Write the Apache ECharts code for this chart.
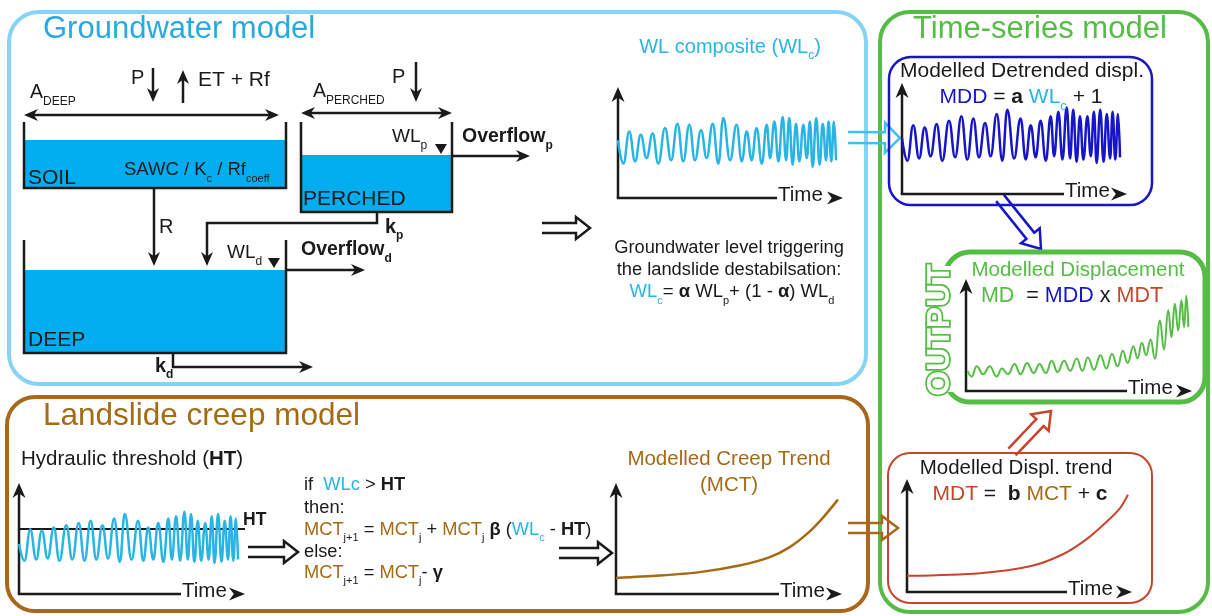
<!DOCTYPE html>
<html><head><meta charset="utf-8">
<script src="https://cdn.jsdelivr.net/npm/echarts@6/dist/echarts.min.js"></script>
<style>html,body{margin:0;padding:0;background:#fff}#c{width:1212px;height:616px}</style>
</head><body><div id="c"></div>
<script>
// ---------- data (time 0-100, level 0-100) ----------
const waveTime = [0,2.4,5,7.6,10.1,12.7,15.4,17.9,20.9,23.6,26.4,29,31.7,34.2,36.9,39.4,42.1,44.6,46.8,49.8,52.7,55,57.2,59.4,61.6,63.9,66.1,67.6,69.5,71.3,73.2,74.7,76.1,77.6,79.1,80.6,82.4,83.9,85.3,86.5,88.1,89.6,91,92.5,93.6,94.8,96,96.9];
const wlLevel  = [52,31,60,33,57,36,58,31,63,34,67,33,66,34,61,36,67,31,72,34,66,33,60,34,63,31,66,36,69,33,73,34,72,30,67,33,66,36,69,28,72,30,67,34,69,33,69,34];
const mddLevel = [50,30,62,32,60,34,63,30,66,33,70,31,68,33,64,34,72,30,76,32,68,31,62,33,66,30,70,34,74,31,78,32,76,29,70,31,70,34,74,28,76,29,72,32,74,31,72,33];
const htLevel  = [45,30,58,31,57,32,60,30,62,31,64,30,66,31,62,32,68,29,72,31,66,30,60,31,64,29,68,31,70,30,74,31,72,29,66,30,64,31,70,28,72,29,66,31,70,30,68,31];
const htThreshold = 59;
const mdTime  = [0.7,2.5,4.7,7.6,10.5,13.5,15.9,18.6,21.5,24.1,27,30,32.5,35.4,37.9,40.5,43.4,46.1,49,51.5,53.9,56.6,59.5,62.1,64.6,67.1,69.4,71.5,74.1,75.9,77.8,79.7,81.7,83.6,85.8,87.6,89.5,90.9,92.4,93.9,95.3,96.5,97.5,98.4];
const mdLevel = [18,13,22,15,22,13,20,15,24,15,25,16,24,16,27,17,27,18,29,18,30,19,32,20,33,22,36,25,40,29,43,32,46,29,63,37,72,48,78,54,81,57,85,57];
const mctTime  = [0,19.4,37,54.6,67.8,76.7,85.5,92.1,98.2];
const mctLevel = [14.5,16.6,19.7,25.7,33,42,56,70,85];
const mdtTime  = [0,32.4,54.7,69.3,80,88.9,94.7,98.2];
const mdtLevel = [14.3,16.7,22.7,33.4,47,62.5,74.3,86.1];

// ---------- styling ----------
const F = '"Liberation Sans", Arial, sans-serif';
const INK = '#1a1a1a';
const LB = '#29b4e6', BOXLB = '#86d4f3', WATER = '#00aeef';
const BROWN = '#a56b14', BOXBR = '#a8681b';
const GREEN = '#55bd45', BLUE = '#1616c8', RED = '#c8452c';

const G = [];
function poly(pts, color, w) { G.push({type:'polyline', shape:{points:pts}, style:{stroke:color||INK, lineWidth:w||2.5, fill:'none'}}); }
function head(x, y, ang, color, len, half) {
  len = len || 14; half = half || 6;
  const c = Math.cos(ang), s = Math.sin(ang), nx = -s, ny = c;
  const bx = x - c*len, by = y - s*len, nt = len*0.7;
  G.push({type:'polygon', shape:{points:[[x,y],[bx+nx*half,by+ny*half],[x-c*nt,y-s*nt],[bx-nx*half,by-ny*half]]}, style:{fill:color||INK}});
}
function arrow(x1,y1,x2,y2,color,w) {
  const L = Math.hypot(x2-x1,y2-y1), c=(x2-x1)/L, s=(y2-y1)/L;
  poly([[x1,y1],[x2-c*8,y2-s*8]], color, w);
  head(x2,y2,Math.atan2(y2-y1,x2-x1),color);
}
function hollow(x1,y1,x2,y2,sh,hh,hl,color,lw) {
  const dx=x2-x1, dy=y2-y1, L=Math.hypot(dx,dy), c=dx/L, s=dy/L, nx=-s, ny=c;
  const bx=x2-c*hl, by=y2-s*hl;
  const P=(px,py,o)=>[px+nx*o, py+ny*o];
  poly([P(x1,y1,sh),P(bx,by,sh),P(bx,by,hh),[x2,y2],P(bx,by,-hh),P(bx,by,-sh),P(x1,y1,-sh)], color, lw||2.5);
}
function box(x,y,w,h,r,color,lw) { G.push({type:'rect', shape:{x,y,width:w,height:h,r}, style:{fill:'none', stroke:color, lineWidth:lw}}); }
function fillRect(x,y,w,h,color) { G.push({type:'rect', shape:{x,y,width:w,height:h}, style:{fill:color}}); }
function tri(x,y) { G.push({type:'polygon', shape:{points:[[x-6,y-5],[x+6,y-5],[x,y+5]]}, style:{fill:INK}}); }
const n=(t,c)=>({t,c}), b=(t,c)=>({t,c,b:true}), sb=(t,c,bo)=>({t,c,sub:true,b:bo});
function T(x,y,parts,size,align) {
  if (typeof parts === 'string') parts = [n(parts)];
  const rich = {}; let s = '';
  const L = Math.round(size*1.5);
  parts.forEach((p,i)=>{
    const k='p'+i, fs = p.sub ? Math.round(size*0.62) : size;
    rich[k] = {fontSize:fs, fontFamily:F, fontWeight:p.b?'bold':'normal', fill:p.c||INK, lineHeight:p.sub?fs:L, verticalAlign:p.sub?'bottom':'middle'};
    s += '{'+k+'|'+p.t+'}';
  });
  G.push({type:'text', x, y, z:10, style:{text:s, rich, align:align||'left', verticalAlign:'middle', font:size+'px '+F, fill:INK}});
}
function plain(x,y,text,size,color,align) {
  G.push({type:'text', x, y, z:10, style:{text, font:size+'px '+F, fill:color, align:align||'left', verticalAlign:'middle'}});
}
function axes(ax, by, ty, tx, ex) {
  poly([[ax,by],[ax,ty+9]], INK, 2.5);
  head(ax, ty, -Math.PI/2, INK, 15, 6.5);
  poly([[ax-1.2,by],[tx-1,by]], INK, 2.5);
  T(tx, by-2.5, 'Time', 20.5);
  head(ex, by, 0, INK, 16, 6.5);
}

// ---------- boxes ----------
box(9,12,857,372,30,BOXLB,4);
box(7,397,861,214,28,BOXBR,4);
box(880,12,328,600,30,GREEN,4);

// ---------- Groundwater model ----------
plain(43,29,'Groundwater model',31,'#27aae1');
T(30,93,[n('A'),sb('DEEP')],19.5);
poly([[32,115],[271,115]]); head(24,115,Math.PI); head(279,115,0);
T(131,78,'P',20); arrow(153,68,153,102);
arrow(183,103,183,70); T(198,80,'ET + Rf',21);
fillRect(25,140,261,48,WATER);
poly([[24,122],[24,188],[286,188],[286,122]]);
T(28,178,'SOIL',21);
T(124,170,[n('SAWC / K'),sb('c'),n(' / Rf'),sb('coeff')],18.5);
arrow(154,188,154,266); T(159,227,'R',20);
// perched
fillRect(302,155,150,57,WATER);
poly([[301,122],[301,212],[452,212],[452,122]]);
T(313,92,[n('A'),sb('PERCHED')],19.5);
poly([[309,113],[444,113]]); head(301,113,Math.PI); head(452,113,0);
T(392,77,'P',20); arrow(416,62,416,102);
T(392,137,[n('WL'),sb('p')],19); tri(441,149);
T(462,137,[b('Overflow'),sb('p',INK,true)],19.5);
arrow(452,156,530,156);
T(303,199,'PERCHED',21);
poly([[377,212],[377,223],[207,223],[207,258]]); head(207,266,Math.PI/2);
T(385,227,[b('k'),sb('p',INK,true)],20);
// deep
fillRect(25,270,261,83,WATER);
poly([[24,240],[24,353],[286,353],[286,240]]);
T(28,340,'DEEP',21);
T(227,253,[n('WL'),sb('d')],19); tri(274,263);
T(301,250,[b('Overflow'),sb('d',INK,true)],19.5);
arrow(286,270,365,270);
poly([[173,353],[173,367],[305,367]]); head(313,367,0);
T(155,366,[b('k'),sb('d',INK,true)],20);
hollow(542,228,590,228,5,11,14,INK,2.5);
// WL composite
T(730,47,[n('WL composite (WL',LB),sb('c',LB),n(')',LB)],20,'center');
axes(618,198,87,778,843);
T(729,248,'Groundwater level triggering',18.3,'center');
T(729,270,'the landslide destabilsation:',18.3,'center');
T(732,292,[n('WL',LB),sb('c',LB),n('= '),b('α'),n(' WL'),sb('p'),n('+ (1 - '),b('α'),n(') WL'),sb('d')],18.5,'center');
hollow(848,137.5,900,138,5.5,15,15,'#3fc0ee',2.5);

// ---------- Time-series model ----------
plain(913,29,'Time-series model',31,GREEN);
box(889,57,263,148,22,BLUE,2.5);
T(1022,71,'Modelled Detrended displ.',21,'center');
T(1021,97,[n('MDD',BLUE),n(' = '),b('a'),n(' '),n('WL',LB),sb('c',LB),n(' + 1')],21,'center');
axes(902,194,83,1065,1127);
hollow(1000,198,1041,249,5,12,17,BLUE,2.5);
box(945,252,260,150,25,GREEN,5);
fillRect(928,266,26,126,'#fff');
G.push({type:'text', x:940, y:330, rotation:Math.PI/2, z:10, style:{text:'OUTPUT', font:'bold 32px '+F, fill:'#fff', stroke:GREEN, lineWidth:3.5, align:'center', verticalAlign:'middle'}});
plain(1078,270,'Modelled Displacement',20.5,GREEN,'center');
T(1072,296,[n('MD',GREEN),n('  = '),n('MDD',BLUE),n(' x '),n('MDT',RED)],21.5,'center');
axes(966,391,279,1128,1192);
hollow(1012,452,1051,411,5,12,16,RED,2.5);
box(888,453,264,150,22,RED,2);
T(1016,468,'Modelled Displ. trend',20.5,'center');
T(1020,494,[n('MDT',RED),n(' =  '),b('b'),n(' '),n('MCT',BROWN),n(' + '),b('c')],21,'center');
axes(907,592,479,1068,1132);

// ---------- Landslide creep model ----------
plain(43,416,'Landslide creep model',31.5,BROWN);
T(21,459,[n('Hydraulic threshold ('),b('HT'),n(')')],20.5);
axes(19,594,483,182,245);
T(243,520,[b('HT')],17.5);
hollow(248,552,298,552,5,11,14,INK,2.5);
T(304,485,[n('if  '),n('WLc',LB),n(' > '),b('HT')],18.3);
T(304,508,'then:',18.3);
T(304,530,[n('MCT',BROWN),sb('j+1'),n(' = '),n('MCT',BROWN),sb('j'),n(' + '),n('MCT',BROWN),sb('j'),n(' '),b('β'),n(' ('),n('WL',LB),sb('c',LB),n(' - '),b('HT'),n(')')],18.3);
T(304,552,'else:',18.3);
T(304,573,[n('MCT',BROWN),sb('j+1'),n(' = '),n('MCT',BROWN),sb('j'),n('- '),b('γ')],18.3);
hollow(559,553,612,553,5,11,14,INK,2.5);
plain(729,459,'Modelled Creep Trend',20.5,BROWN,'center');
plain(729,485,'(MCT)',20.5,BROWN,'center');
axes(616,594,483,780,842);
hollow(848,528,898,528,5,12,16,BOXBR,2.5);

// ---------- charts ----------
const grids=[], xAxes=[], yAxes=[], series=[];
function chart(l,t,w,h,xs,ys,color,lw,smooth,mono) {
  const i = grids.length;
  grids.push({left:l, top:t, width:w, height:h, containLabel:false, show:false});
  xAxes.push({gridIndex:i, type:'value', min:0, max:100, show:false});
  yAxes.push({gridIndex:i, type:'value', min:0, max:100, show:false});
  const s = {type:'line', xAxisIndex:i, yAxisIndex:i, data:xs.map((x,k)=>[x,ys[k]]), showSymbol:false, symbol:'none', smooth, lineStyle:{color, width:lw}, silent:true, z:5};
  if (mono) s.smoothMonotone = mono;
  series.push(s); return s;
}
chart(618,87,225,111,waveTime,wlLevel,LB,2.5,0.45,'x');
chart(902,83,225,111,waveTime,mddLevel,BLUE,2.5,0.45,'x');
const ht = chart(19,483,226,111,waveTime,htLevel,LB,2.5,0.45,'x');
ht.markLine = {silent:true, symbol:'none', animation:false, data:[{yAxis:htThreshold}], lineStyle:{color:INK, width:2, type:'solid'}, label:{show:false}};
chart(966,279,226,112,mdTime,mdLevel,GREEN,2,0.45,'x');
chart(616,483,226,111,mctTime,mctLevel,BROWN,2.5,0.3);
chart(907,479,225,113,mdtTime,mdtLevel,RED,2,0.3);

const myChart = echarts.init(document.getElementById('c'), null, {renderer:'canvas'});
myChart.setOption({animation:false, backgroundColor:'#fff', grid:grids, xAxis:xAxes, yAxis:yAxes, series, graphic:{elements:G}});
</script></body></html>
